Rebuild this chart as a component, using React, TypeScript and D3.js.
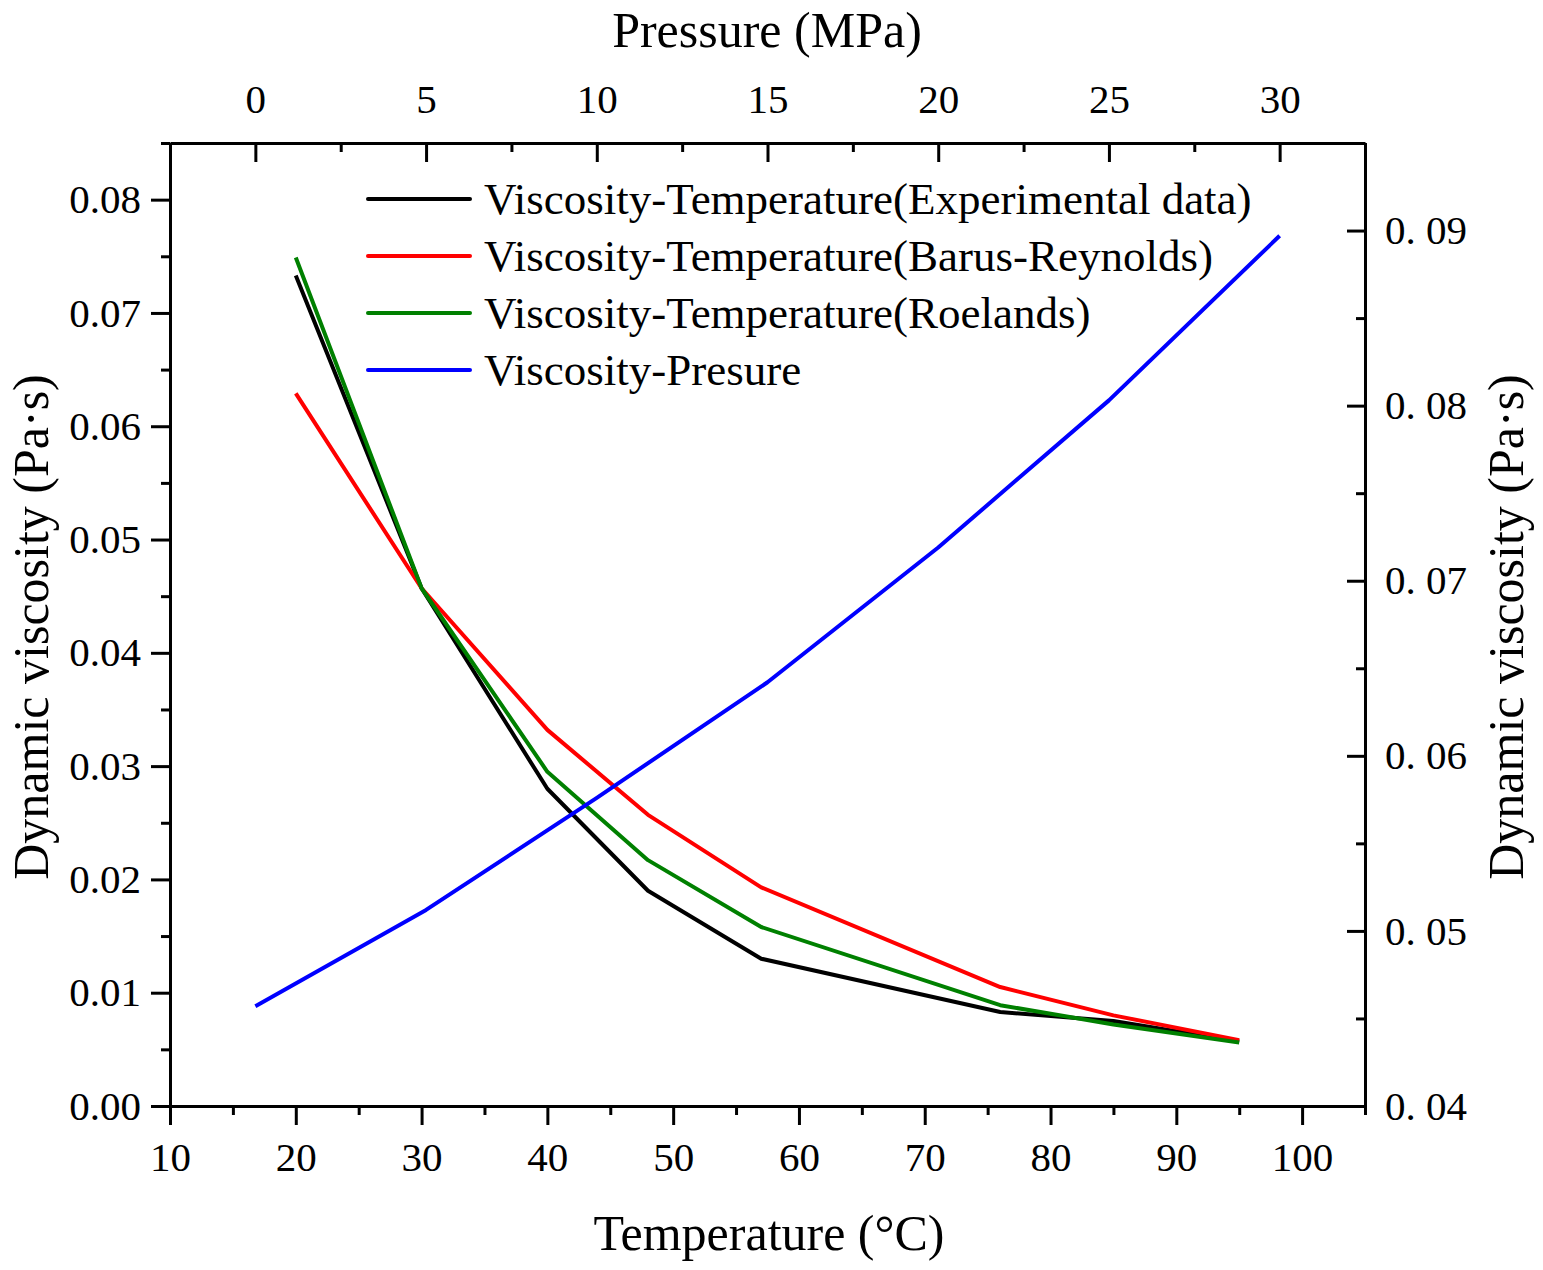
import React, { useEffect, useRef } from "react";
import * as d3 from "d3";

// temperature series (°C) and viscosity values (Pa·s)
const temperatures = [20, 30, 40, 48, 57, 76, 85, 95];
const experimental = [0.0733, 0.0457, 0.028, 0.019, 0.013, 0.0083, 0.0075, 0.0057];
const barusReynolds = [0.0629, 0.0457, 0.0332, 0.0257, 0.0193, 0.0105, 0.008, 0.0058];
const roelands = [0.0749, 0.0457, 0.0295, 0.0217, 0.0158, 0.0089, 0.0072, 0.0056];

// pressure series (MPa)
const pressures = [0, 5, 10, 15, 20, 25, 30];
const viscPressure = [0.0457, 0.0512, 0.0576, 0.0642, 0.0719, 0.0803, 0.0897];

const tempTicks = [10, 20, 30, 40, 50, 60, 70, 80, 90, 100];
const pressTicks = [0, 5, 10, 15, 20, 25, 30];
const leftTicks = [0, 0.01, 0.02, 0.03, 0.04, 0.05, 0.06, 0.07, 0.08];
const rightTicks = [0.04, 0.05, 0.06, 0.07, 0.08, 0.09];

const legendLabels = [
  "Viscosity-Temperature(Experimental data)",
  "Viscosity-Temperature(Barus-Reynolds)",
  "Viscosity-Temperature(Roelands)",
  "Viscosity-Presure",
];
const colors = ["#000000", "#ff0000", "#008000", "#0000ff"];

const W = 1543;
const H = 1270;
const FONT = "'Liberation Serif', 'Times New Roman', serif";

export default function App() {
  const ref = useRef(null);

  useEffect(() => {
    document.body.style.margin = "0";
    const svg = d3.select(ref.current);
    svg.selectAll("*").remove();

    const m = { left: 170, right: 1365, top: 143, bottom: 1106 };

    const x = d3.scaleLinear().domain([10, 105]).range([m.left, m.right]);
    const xTop = d3.scaleLinear().domain([-2.5, 32.5]).range([m.left, m.right]);
    const y = d3.scaleLinear().domain([0, 0.085]).range([m.bottom, m.top]);
    const yRight = d3.scaleLinear().domain([0.04, 0.095]).range([m.bottom, m.top]);

    const g = svg.append("g").attr("font-family", FONT);

    const styleAxis = (sel) => {
      sel.select(".domain").attr("stroke", "#000").attr("stroke-width", 3);
      sel.selectAll(".tick line").attr("stroke", "#000").attr("stroke-width", 3);
      sel.selectAll("text").attr("fill", "#000").attr("font-family", FONT);
    };

    // minor ticks
    const minor = (vals, pos, axis) => {
      g.append("g")
        .attr("transform", pos)
        .call(axis.tickValues(vals).tickSize(9).tickFormat(() => "").tickSizeOuter(0))
        .call(styleAxis)
        .select(".domain")
        .remove();
    };

    minor(d3.range(15, 106, 10), `translate(0,${m.bottom})`, d3.axisBottom(x));
    minor(d3.range(0.005, 0.086, 0.01), `translate(${m.left},0)`, d3.axisLeft(y));
    minor(d3.range(-2.5, 33, 5), `translate(0,${m.top})`, d3.axisBottom(xTop));
    minor(d3.range(0.045, 0.096, 0.01), `translate(${m.right},0)`, d3.axisLeft(yRight));

    g.append("g")
      .attr("transform", `translate(0,${m.bottom})`)
      .call(d3.axisBottom(x).tickValues(tempTicks).tickSize(19).tickSizeOuter(0).tickPadding(17).tickFormat(d3.format("d")))
      .call(styleAxis)
      .selectAll("text")
      .attr("font-size", 41);

    g.append("g")
      .attr("transform", `translate(${m.left},0)`)
      .call(d3.axisLeft(y).tickValues(leftTicks).tickSize(19).tickSizeOuter(0).tickPadding(10).tickFormat(d3.format(".2f")))
      .call(styleAxis)
      .selectAll("text")
      .attr("font-size", 41);

    // top: ticks point inward, labels above
    const top = g.append("g")
      .attr("transform", `translate(0,${m.top})`)
      .call(d3.axisBottom(xTop).tickValues(pressTicks).tickSize(19).tickSizeOuter(0).tickFormat(d3.format("d")))
      .call(styleAxis);
    top.selectAll("text").attr("font-size", 41).attr("y", -30).attr("dy", 0);

    // right: ticks point inward, labels outside
    const right = g.append("g")
      .attr("transform", `translate(${m.right},0)`)
      .call(d3.axisLeft(yRight).tickValues(rightTicks).tickSize(18).tickSizeOuter(0).tickFormat((d) => "0. " + d3.format(".2f")(d).slice(2)))
      .call(styleAxis);
    right.selectAll("text").attr("font-size", 41).attr("x", 20).attr("text-anchor", "start");

    // axis titles
    g.append("text").attr("x", 767).attr("y", 47).attr("text-anchor", "middle").attr("font-size", 50).text("Pressure (MPa)");
    g.append("text").attr("x", 769).attr("y", 1250).attr("text-anchor", "middle").attr("font-size", 50).text("Temperature (°C)");
    g.append("text")
      .attr("transform", `translate(48,627) rotate(-90)`)
      .attr("text-anchor", "middle")
      .attr("font-size", 50)
      .text("Dynamic viscosity (Pa·s)");
    g.append("text")
      .attr("transform", `translate(1523,627) rotate(-90)`)
      .attr("text-anchor", "middle")
      .attr("font-size", 50)
      .text("Dynamic viscosity (Pa·s)");

    // series
    const tLine = d3.line().x((d) => x(d[0])).y((d) => y(d[1]));
    const pLine = d3.line().x((d) => xTop(d[0])).y((d) => yRight(d[1]));

    const tempSeries = [experimental, barusReynolds, roelands];
    const lines = g.append("g").attr("fill", "none").attr("stroke-width", 4).attr("stroke-linejoin", "round");
    tempSeries.forEach((vals, i) => {
      lines.append("path")
        .datum(temperatures.map((t, j) => [t, vals[j]]))
        .attr("stroke", colors[i])
        .attr("d", tLine);
    });
    lines.append("path")
      .datum(pressures.map((p, j) => [p, viscPressure[j]]))
      .attr("stroke", colors[3])
      .attr("d", pLine);

    // legend
    const legend = g.append("g").attr("transform", "translate(368,199)");
    legendLabels.forEach((label, i) => {
      const row = legend.append("g").attr("transform", `translate(0,${i * 57})`);
      row.append("line").attr("x1", 0).attr("x2", 102).attr("stroke", colors[i]).attr("stroke-width", 4).attr("stroke-linecap", "round");
      row.append("text").attr("x", 116).attr("dy", "0.33em").attr("font-size", 45).text(label);
    });
  }, []);

  return <svg ref={ref} width={W} height={H} style={{ display: "block", background: "#fff" }} />;
}
